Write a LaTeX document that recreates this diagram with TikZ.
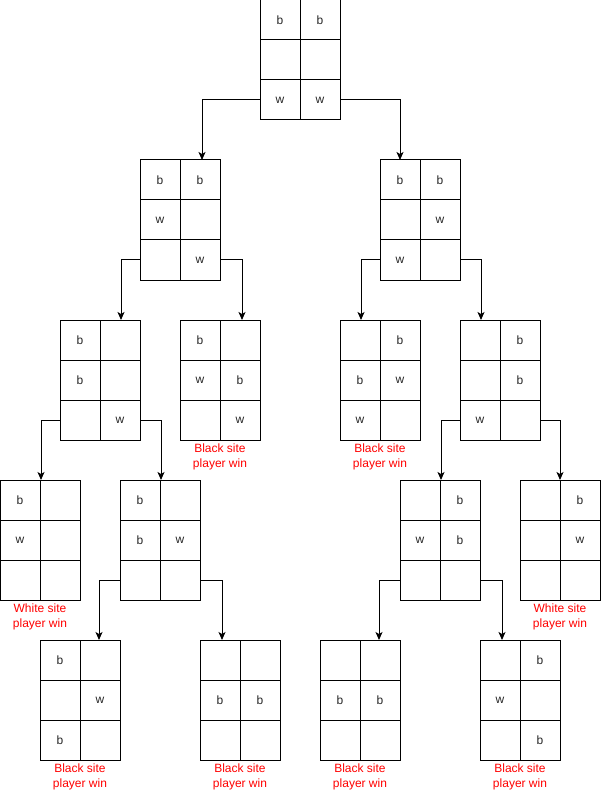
\documentclass[tikz,border=0pt]{standalone}
\usepackage{fontspec}
\setmainfont{Liberation Sans}
\usetikzlibrary{calc,arrows.meta}
\definecolor{lettergray}{HTML}{262626}
\definecolor{labelred}{HTML}{FF0000}
\tikzset{
  boardbox/.style={draw=black, line width=1pt, minimum width=80pt, minimum height=120pt, inner sep=0pt, outer sep=0pt},
  gridline/.style={draw=black, line width=1pt},
  cellletter/.style={text=lettergray, font=\fontsize{12}{14}\selectfont, inner sep=0pt},
  winlabel/.style={text=labelred, font=\fontsize{12}{15}\selectfont, align=center, inner sep=0pt, anchor=north},
  conline/.style={draw=black, line width=1pt, -{Stealth[length=8pt,width=7pt,inset=2pt]}}
}
\newcommand\cellnode[3]{\if\relax\detokenize{#3}\relax\else\node[cellletter] (#1) at #2 {#3};\fi}
\newcommand\board[9]{%
  \node[boardbox] (#1) at ({#2+40},{#3+60}) {};
  \draw[gridline] (#1.north) -- (#1.south)
    ($(#1.north west)+(0,40)$) -- ($(#1.north east)+(0,40)$)
    ($(#1.north west)+(0,80)$) -- ($(#1.north east)+(0,80)$);
  \cellnode{#1-11}{({#2+20},{#3+20})}{#4}
  \cellnode{#1-12}{({#2+60},{#3+20})}{#5}
  \cellnode{#1-21}{({#2+20},{#3+60})}{#6}
  \cellnode{#1-22}{({#2+60},{#3+60})}{#7}
  \cellnode{#1-31}{({#2+20},{#3+100})}{#8}
  \cellnode{#1-32}{({#2+60},{#3+100})}{#9}
}
\newcommand\connW[3]{\draw[conline] ($(#1.south west)+(0,-20)$) -| ($(#2.north west)+(#3,0)$);}
\newcommand\connE[3]{\draw[conline] ($(#1.south east)+(0,-20)$) -| ($(#2.north west)+(#3,0)$);}
\newcommand\winlab[3]{\node[winlabel] (#1) at ($(#2.south)+(0,3.3)$) {#3 site\\player win};}
\begin{document}
\begin{tikzpicture}[x=1pt,y=-1pt]
\useasboundingbox (0,0) rectangle (601,791);
\board{root}{260}{0}{b}{b}{}{}{w}{w}
\board{lA}{140}{160}{b}{b}{w}{}{}{w}
\board{lB}{380}{160}{b}{b}{}{w}{w}{}
\board{mA}{60}{320}{b}{}{b}{}{}{w}
\board{mB}{180}{320}{b}{}{w}{b}{}{w}
\board{mC}{340}{320}{}{b}{b}{w}{w}{}
\board{mD}{460}{320}{}{b}{}{b}{w}{}
\board{nA}{0}{480}{b}{}{w}{}{}{}
\board{nB}{120}{480}{b}{}{b}{w}{}{}
\board{nC}{400}{480}{}{b}{w}{b}{}{}
\board{nD}{520}{480}{}{b}{}{w}{}{}
\board{pA}{40}{640}{b}{}{}{w}{b}{}
\board{pB}{200}{640}{}{}{b}{b}{}{}
\board{pC}{320}{640}{}{}{b}{b}{}{}
\board{pD}{480}{640}{}{b}{w}{}{}{b}
\connW{root}{lA}{62}
\connE{root}{lB}{20}
\connW{lA}{mA}{61}
\connE{lA}{mB}{62}
\connW{lB}{mC}{21}
\connE{lB}{mD}{21}
\connW{mA}{nA}{41}
\connE{mA}{nB}{41}
\connW{mD}{nC}{41}
\connE{mD}{nD}{40}
\connW{nB}{pA}{59}
\connE{nB}{pB}{22}
\connW{nC}{pC}{59}
\connE{nC}{pD}{22}
\winlab{labmB}{mB}{Black}
\winlab{labmC}{mC}{Black}
\winlab{labnA}{nA}{White}
\winlab{labnD}{nD}{White}
\winlab{labpA}{pA}{Black}
\winlab{labpB}{pB}{Black}
\winlab{labpC}{pC}{Black}
\winlab{labpD}{pD}{Black}
\end{tikzpicture}
\end{document}
